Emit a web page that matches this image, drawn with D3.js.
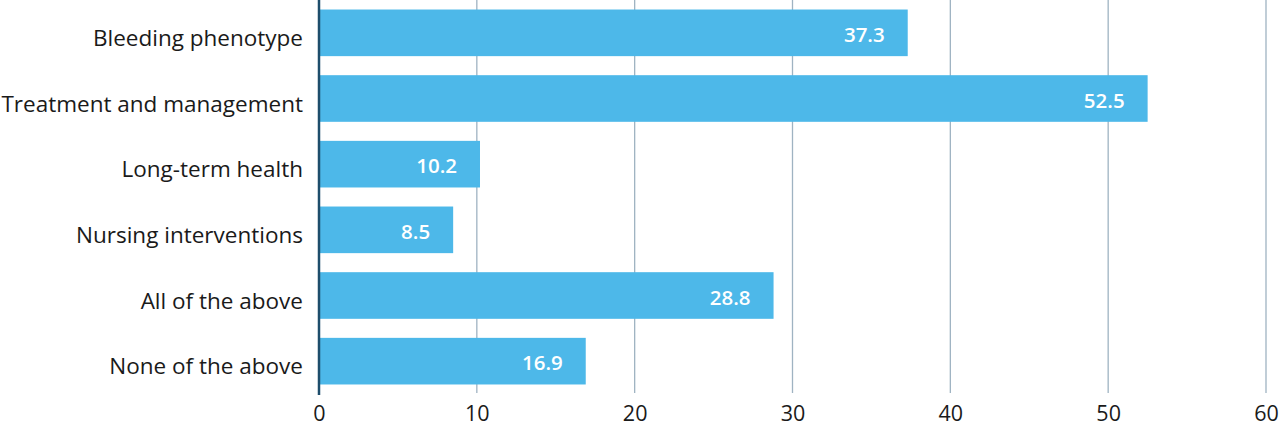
<!DOCTYPE html>
<html><head><meta charset="utf-8">
<script src="https://cdn.jsdelivr.net/npm/d3@7"></script>
<style>
body{margin:0;background:#fff;}
svg{display:block;}
text{font-family:"Open Sans",Lato,sans-serif;}
</style></head>
<body><svg id="chart" width="1280" height="428"></svg>
<script>
const categories = ["Bleeding phenotype","Treatment and management","Long-term health","Nursing interventions","All of the above","None of the above"];
const values = [37.3, 52.5, 10.2, 8.5, 28.8, 16.9];
const tickValues = [0,10,20,30,40,50,60];

const svg = d3.select("#chart");
const x = d3.scaleLinear().domain([0,60]).range([319,1266]);
const y = d3.scaleBand().domain(categories).range([0,394]).paddingInner(0.29).paddingOuter(0.145);

// grid
svg.append("g").selectAll("line").data(tickValues.filter(d=>d>0)).join("line")
  .attr("x1",d=>x(d)).attr("x2",d=>x(d)).attr("y1",0).attr("y2",393)
  .attr("stroke","#9fb3c2").attr("stroke-width",1.3);

// bars
svg.append("g").selectAll("rect").data(values).join("rect")
  .attr("x",x(0)).attr("y",(d,i)=>y(categories[i]))
  .attr("width",d=>x(d)-x(0)).attr("height",y.bandwidth())
  .attr("fill","#4db8e9");

// value labels
svg.append("g").selectAll("text").data(values).join("text")
  .attr("x",d=>x(d)-23).attr("y",(d,i)=>y(categories[i])+y.bandwidth()/2+9)
  .attr("text-anchor","end")
  .attr("fill","#fff").attr("font-size",20.5).attr("font-weight",600)
  .text(d=>d.toFixed(1));

// y axis
const yAxis = svg.append("g").attr("transform",`translate(${x(0)},0)`)
  .call(d3.axisLeft(y).tickSize(0).tickPadding(16));
yAxis.select(".domain").remove();
yAxis.selectAll("text").attr("font-size",22.5).attr("fill","#1a1a1a")
  .attr("dy",null).attr("y",13)
  .style("font-family","'Open Sans',Lato,sans-serif");
svg.append("line").attr("x1",x(0)).attr("x2",x(0)).attr("y1",0).attr("y2",395)
  .attr("stroke","#1d4d6b").attr("stroke-width",2.5);

// x axis
const xAxis = svg.append("g").attr("transform","translate(0,396)")
  .call(d3.axisBottom(x).tickValues(tickValues).tickSize(0));
xAxis.select(".domain").remove();
xAxis.selectAll("text").attr("font-size",21.5).attr("fill","#1a1a1a")
  .attr("dy",null).attr("y",25)
  .style("font-family","'Open Sans',Lato,sans-serif");
</script></body></html>
